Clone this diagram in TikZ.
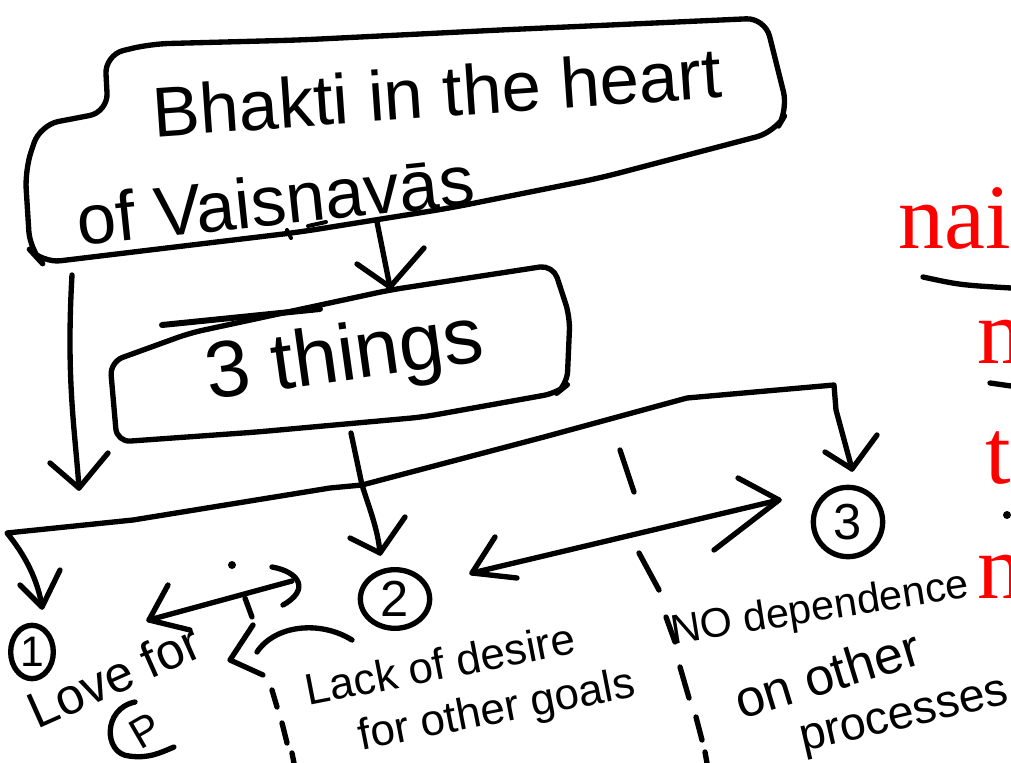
\documentclass[tikz,border=0pt]{standalone}
\usepackage{fontspec}
\usetikzlibrary{shapes.geometric}
\newfontfamily\hand{Liberation Sans}
\newfontfamily\redf{Liberation Serif}
\begin{document}
\begin{tikzpicture}[x=0.75pt,y=-0.75pt, line cap=round, line join=round,
  ink/.style={line width=4pt},
  fine/.style={line width=3pt},
  txt/.style={inner sep=0pt, font=\hand},
  redtxt/.style={inner sep=0pt, anchor=base west, text=red, font=\redf\fontsize{69}{70}\selectfont},
  circ/.style={draw, ellipse, line width=4pt, inner sep=0pt, font=\hand\fontsize{38}{40}\selectfont}]
\useasboundingbox (0,0) rectangle (1011,763);

% ---------- big box ----------
\draw[ink, rounded corners=14pt] (105,55) -- (150,44) -- (300,40) -- (500,30) -- (765,18) -- (788,110) -- (775,132)
  -- (600,178) -- (450,208) -- (300,232) -- (150,250) -- (42,263) -- (30,250) -- (25,170) -- (40,125) -- (108,112) -- cycle;
\node[txt, rotate=4, font=\hand\fontsize{53}{56}\selectfont] (t1) at (437,92) {Bhakti in the heart};
\node[txt, rotate=6, font=\hand\fontsize{53}{56}\selectfont] (t2) at (275,200) {of Vaisnavās};
\draw[fine] (287,230) -- (291,238);
\draw[fine] (308,226) -- (326,222);

% ---------- 3 things box ----------
\draw[ink, rounded corners=10pt] (110,362) -- (190,333) -- (390,290) -- (553,265) -- (570,317) -- (567,385) -- (557,393)
  -- (423,417) -- (257,432) -- (117,442) -- cycle;
\draw[line width=4.5pt] (162,325) -- (320,309);
\node[txt, rotate=8, font=\hand\fontsize{60}{64}\selectfont] (t3) at (345,360) {3 things};

% arrow big box -> 3 things
\coordinate (a1s) at (377,222);
\coordinate (a1t) at (390,287);
\draw[ink] (a1s) -- (a1t);
\draw[ink] (357,264) -- (a1t) -- (424,248);

% left long arrow
\coordinate (a2s) at (72,275);
\coordinate (a2t) at (79,488);
\draw[ink] (a2s) .. controls (66,380) and (75,430) .. (a2t);
\draw[ink] (50,463) -- (a2t) -- (108,453);

% trunk and branches
\coordinate (tr) at (351,433);
\coordinate (J) at (362,485);
\coordinate (L) at (7,533);
\coordinate (t1tip) at (42,607);
\coordinate (t2tip) at (380,553);
\coordinate (R) at (834,385);
\coordinate (t3tip) at (852,469);
\draw[ink] (tr) -- (J) .. controls (370,510) and (378,530) .. (t2tip);
\draw[ink] (350,538) -- (t2tip) -- (405,517);
\draw[ink] (J) -- (330,488) -- (133,520) -- (L) .. controls (25,555) and (38,580) .. (t1tip);
\draw[ink] (20,585) -- (t1tip) -- (60,570);
\draw[ink] (J) -- (544,437) -- (687,398) -- (R) -- (836,410) -- (t3tip);
\draw[ink] (825,452) -- (t3tip) -- (877,435);

% circled numbers
\node[circ, minimum width=32pt, minimum height=40pt, font=\hand\fontsize{32}{34}\selectfont] (c1) at (32,652) {1};
\node[circ, minimum width=52pt, minimum height=44pt] (c2) at (395,599) {2};
\node[circ, minimum size=52pt] (c3) at (848,522) {3};

% double arrow 2 <-> 3
\coordinate (d1a) at (472,573);
\coordinate (d1b) at (779,500);
\draw[ink] (d1a) -- (d1b);
\draw[ink] (495,537) -- (d1a) -- (517,578);
\draw[ink] (738,478) -- (d1b) -- (714,550);
\draw[ink] (620,450) -- (634,492);
% dashed separator right
\draw[ink] (639,553) -- (659,590);
\draw[ink] (666,617) -- (675,642);
\draw[ink] (680,667) -- (689,698);
\draw[ink] (696,717) -- (702,740);
\draw[ink] (705,752) -- (707,763);

% double arrow left
\coordinate (d2a) at (149,620);
\coordinate (d2b) at (292,581);
\draw[ink] (d2a) -- (d2b);
\draw[ink] (168,585) -- (d2a) -- (190,630);
\draw[ink] (272,567) .. controls (300,572) and (310,590) .. (283,605);
\fill (232,565) circle (3pt);
% dashed separator left
\draw[ink] (245,598) -- (252,617);
\coordinate (lt) at (230,660);
\draw[ink] (253,625) -- (lt) -- (263,675);
\draw[ink] (352,640) .. controls (320,620) and (275,625) .. (257,652);
\draw[ink] (272,690) -- (277,707);
\draw[ink] (282,723) -- (287,743);
\draw[ink] (292,753) -- (294,763);

% texts
\node[txt, rotate=24, font=\hand\fontsize{38}{40}\selectfont] (love) at (114,676) {Love for};
\node[txt, rotate=30, font=\hand\fontsize{32}{34}\selectfont] (p) at (145,731) {P};
\draw[ink] (135,702) .. controls (102,709) and (104,754) .. (129,756) .. controls (149,759) and (162,752) .. (174,747);
\node[txt, rotate=11, font=\hand\fontsize{33}{36}\selectfont] (lack) at (440,664) {Lack of desire};
\node[txt, rotate=11, font=\hand\fontsize{33}{36}\selectfont] (goals) at (497,712) {for other goals};
\node[txt, rotate=9, font=\hand\fontsize{31}{34}\selectfont] (nodep) at (820,610) {NO dependence};
\node[txt, rotate=17, font=\hand\fontsize{39}{42}\selectfont] (onoth) at (827,674) {on other};
\node[txt, rotate=13, font=\hand\fontsize{35}{38}\selectfont] (proc) at (905,720) {processes};

% red text on the right
\node[redtxt] (r1) at (898,248) {nai};
\node[redtxt] (r2) at (977,363) {m};
\node[redtxt] (r3) at (985,483) {t};
\node[redtxt] (r4) at (977,598) {n};
\draw[ink] (923,277) .. controls (960,285) .. (1011,288);
\draw[ink] (990,383) -- (1011,386);
\fill (1007,515) circle (3pt);
\end{tikzpicture}
\end{document}
